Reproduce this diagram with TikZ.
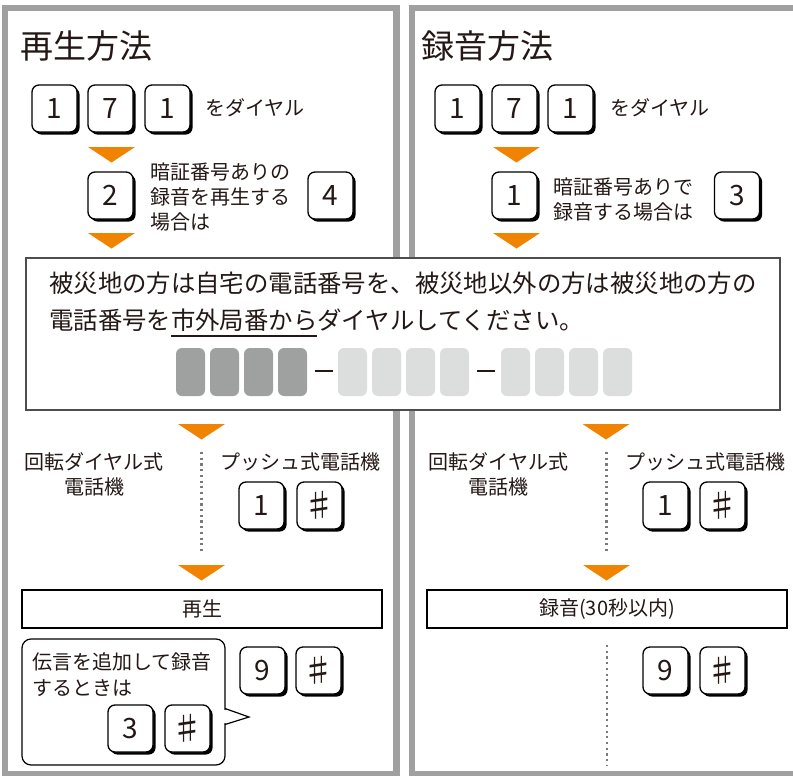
\documentclass[tikz,border=0pt]{standalone}
\usepackage{fontspec}
\setmainfont{Noto Sans CJK JP}
\usetikzlibrary{shadows}
\definecolor{panelgray}{HTML}{A0A0A0}
\definecolor{arroworange}{HTML}{F08300}
\definecolor{txt}{HTML}{231815}
\definecolor{darkbox}{HTML}{9FA0A0}
\definecolor{lightbox}{HTML}{DCDDDD}
\definecolor{midframe}{HTML}{4D4D4D}
\definecolor{dotgray}{HTML}{7A7A7A}
\newcommand\fs[2]{\fontsize{#1}{#2}\selectfont}
\newcommand\otri[2]{\fill[arroworange] (#1-23.5,#2) -- (#1+23.5,#2) -- (#1,#2+15.5) -- cycle;}
\tikzset{
  panel/.style={draw=panelgray, line width=6.5pt},
  key/.style={draw=black, fill=white, line width=1.3pt, rounded corners=7pt,
    minimum width=45pt, minimum height=47pt, inner sep=0pt, text=txt,
    font=\fs{28}{30},
    drop shadow={shadow xshift=2.6pt, shadow yshift=-2.6pt, fill=black, opacity=1}},
  sharpkey/.style={key, font=\fs{32}{34}},
  lbl/.style={text=txt, inner sep=0pt, font=\fs{20}{25}},
  title/.style={text=txt, inner sep=0pt, font=\fs{33}{36}, anchor=west},
  midtxt/.style={text=txt, inner sep=0pt, font=\fs{24.4}{30}, anchor=west},
  numbox/.style={rounded corners=6pt, minimum width=29pt, minimum height=48pt, inner sep=0pt},
  stepbox/.style={draw=black, line width=1.1pt, fill=white, minimum width=360pt, minimum height=38pt, inner sep=0pt, text=txt, font=\fs{20}{24}},
  dotline/.style={draw=dotgray, line width=2.4pt, dash pattern=on 2.2pt off 3.5pt},
}
\begin{document}
\begin{tikzpicture}[x=1pt, y=-1pt]
\useasboundingbox (0,0) rectangle (793,776);
\begin{scope}
\clip (0,0) rectangle (793,776);
\fill[white] (0,0) rectangle (793,776);
% panels
\draw[panel] (5,8) rectangle (396.7,774.5);
\draw[panel] (412,8) rectangle (810,774.5);

% titles
\node[title] (t1) at (20,46) {再生方法};
\node[title] (t2) at (421,46) {録音方法};

% left top keys
\node[key] (l1a) at (54.5,108.5) {1};
\node[key] (l7)  at (110.5,108.5) {7};
\node[key] (l1b) at (167.5,108.5) {1};
\node[lbl, anchor=west] (ldial) at (205,108) {をダイヤル};
\otri{111.5}{147}
\node[key] (l2) at (110.5,195.5) {2};
\node[lbl, anchor=west, align=left] (lstep) at (150,197) {暗証番号ありの\\録音を再生する\\場合は};
\node[key] (l4) at (330.5,195.5) {4};
\otri{111.5}{233}

% right top keys
\node[key] (r1a) at (457.5,108.5) {1};
\node[key] (r7)  at (514.5,108.5) {7};
\node[key] (r1b) at (570.5,108.5) {1};
\node[lbl, anchor=west] (rdial) at (610,108) {をダイヤル};
\otri{516.5}{147}
\node[key] (r1c) at (514.5,195.5) {1};
\node[lbl, anchor=west, align=left] (rstep) at (553,199.5) {暗証番号ありで\\録音する場合は};
\node[key] (r3) at (737,195.5) {3};
\otri{516.5}{233}

% middle box
\node[draw=midframe, line width=1.4pt, fill=white, minimum width=754pt, minimum height=152pt, inner sep=0pt] (mid) at (403,334) {};
\node[midtxt] (m1) at (49,283) {被災地の方は自宅の電話番号を、被災地以外の方は被災地の方の};
\node[midtxt] (m2) at (49,320) {電話番号を市外局番からダイヤルしてください。};
\draw[txt, line width=1.1pt] (171,336) -- (317,336);
\foreach \x [count=\i] in {176,210,244,278}
  \node[numbox, fill=darkbox] (d\i) at (\x+14.5,372) {};
\foreach \x [count=\i] in {338,372,406,440}
  \node[numbox, fill=lightbox] (e\i) at (\x+14.5,372) {};
\foreach \x [count=\i] in {501,535,569,603}
  \node[numbox, fill=lightbox] (f\i) at (\x+14.5,372) {};
\draw[txt, line width=2pt] (315,371) -- (333,371);
\draw[txt, line width=2pt] (477,371) -- (495,371);

% left lower
\otri{201.5}{424}
\node[lbl, align=center] (lrot) at (94,474.5) {回転ダイヤル式\\電話機};
\node[lbl] (lpush) at (300,462) {プッシュ式電話機};
\draw[dotline] (201.5,452) -- (201.5,551);
\node[key] (lp1) at (261.5,505.5) {1};
\node[sharpkey] (lps) at (319.5,505.5) {♯};
\otri{201.5}{565}
\node[stepbox] (play) at (202,609) {再生};

\node[draw=black, line width=1.2pt, fill=white, rounded corners=9pt, minimum width=203pt, minimum height=126pt, inner sep=0pt] (bub) at (123.5,702) {};
\fill[white] (223,709.5) -- (247,717) -- (223,723.5) -- cycle;
\draw[black, line width=1.2pt, line join=miter] (225,708.5) -- (249,717) -- (225,724.5);
\node[lbl, anchor=west, align=left, font=\fs{20}{26}] (btxt) at (32,675) {伝言を追加して録音\\するときは};
\node[key] (b3) at (130.5,728.5) {3};
\node[sharpkey] (bs) at (187.5,728.5) {♯};
\node[key] (l9) at (262.5,670.5) {9};
\node[sharpkey] (l9s) at (318.5,670.5) {♯};

% right lower
\otri{606}{424}
\node[lbl, align=center] (rrot) at (498.5,474.5) {回転ダイヤル式\\電話機};
\node[lbl] (rpush) at (705,462) {プッシュ式電話機};
\draw[dotline] (606.5,452) -- (606.5,551);
\node[key] (rp1) at (665.5,505.5) {1};
\node[sharpkey] (rps) at (722.5,505.5) {♯};
\otri{606.5}{565}
\node[stepbox] (rec) at (607,609) {録音(30秒以内)};
\draw[dotline] (607,645) -- (607,766);
\node[key] (r9) at (665.5,670.5) {9};
\node[sharpkey] (r9s) at (722.5,670.5) {♯};
\end{scope}
\end{tikzpicture}
\end{document}
